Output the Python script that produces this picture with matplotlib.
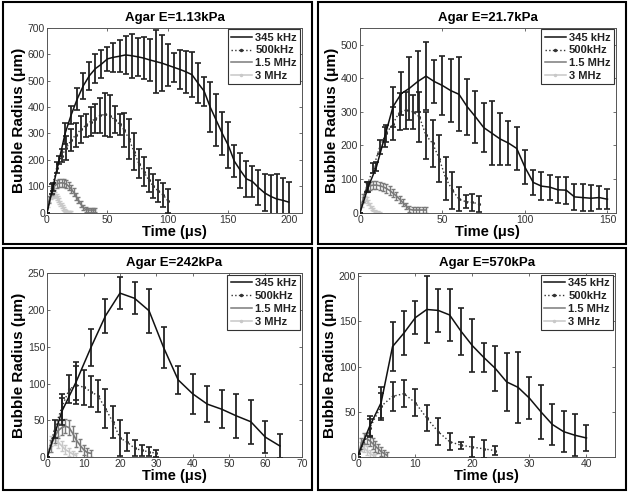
import matplotlib
matplotlib.use("Agg")
import matplotlib.pyplot as plt
from matplotlib.patches import Rectangle
from matplotlib.lines import Line2D
import numpy as np

plt.rcParams['font.family'] = ['Liberation Sans', 'DejaVu Sans']

labels = ['345 kHz', '500kHz', '1.5 MHz', '3 MHz']
titles = ['Agar E=1.13kPa', 'Agar E=21.7kPa', 'Agar E=242kPa', 'Agar E=570kPa']

# ---------------- Panel 1: E = 1.13 kPa ----------------
p1_t345 = [0, 5, 10, 15, 20, 25, 30, 35, 40, 45, 50, 55, 60, 65, 70, 75, 80, 85, 90, 95, 100,
           105, 110, 115, 120, 125, 130, 135, 140, 145, 150, 155, 160, 165, 170, 175, 180, 185, 190, 195, 200]
p1_r345 = [0, 98, 199, 300, 370, 430, 480, 518, 545, 562, 582, 588, 592, 597, 594, 590, 585, 578, 572, 566, 558,
           550, 542, 533, 522, 490, 460, 400, 350, 300, 255, 195, 160, 128, 118, 95, 75, 62, 52, 47, 40]
p1_e345 = [0, 15, 16, 40, 35, 40, 50, 54, 54, 52, 45, 54, 60, 72, 84, 72, 79, 81, 120, 107, 80,
           55, 75, 80, 85, 75, 55, 95, 98, 80, 87, 60, 67, 69, 57, 66, 70, 80, 95, 85, 75]
p1_t500 = [0, 4, 8, 12, 16, 20, 24, 28, 32, 36, 40, 44, 48, 52, 56, 60, 64, 68, 72, 76, 80, 84, 88, 92, 96, 100]
p1_r500 = [0, 90, 170, 215, 245, 275, 295, 315, 330, 345, 355, 368, 372, 365, 352, 335, 312, 278, 230, 185,
           155, 125, 100, 82, 68, 45]
p1_e500 = [0, 20, 20, 25, 45, 40, 45, 50, 45, 55, 55, 65, 80, 80, 50, 40, 65, 75, 70, 55, 55, 45, 45, 40, 45, 45]
p1_t15 = [0, 2, 4, 6, 8, 10, 12, 14, 16, 18, 20, 22, 24, 26, 28, 30, 32, 34, 36, 38, 40]
p1_r15 = [0, 50, 80, 100, 108, 112, 113, 112, 108, 100, 90, 78, 62, 48, 32, 20, 12, 10, 10, 10, 10]
p1_e15 = [0, 12, 14, 15, 15, 15, 15, 15, 15, 15, 15, 14, 14, 13, 12, 10, 8, 8, 8, 8, 8]
p1_t3 = [0, 1, 2, 3, 4, 5, 6, 7, 8, 9, 10, 11, 12, 13, 14, 15, 16, 17, 18, 19, 20]
p1_r3 = [0, 30, 50, 62, 68, 72, 70, 66, 60, 52, 44, 36, 28, 20, 14, 8, 4, 3, 2, 2, 2]
p1_e3 = [0, 10, 10, 12, 12, 12, 12, 12, 12, 11, 10, 10, 9, 8, 7, 6, 5, 4, 3, 3, 3]

# ---------------- Panel 2: E = 21.7 kPa ----------------
p2_t345 = [0, 5, 10, 15, 20, 25, 30, 35, 40, 45, 50, 55, 60, 65, 70, 75, 80, 85, 90, 95, 100,
           105, 110, 115, 120, 125, 130, 135, 140, 145, 150]
p2_r345 = [0, 77, 137, 226, 315, 354, 370, 390, 406, 390, 378, 363, 352, 315, 285, 253, 236, 219, 207, 191, 135,
           90, 79, 76, 68, 67, 47, 45, 43, 45, 40]
p2_e345 = [0, 15, 14, 30, 59, 64, 94, 92, 102, 65, 89, 94, 110, 83, 78, 72, 95, 77, 65, 64, 50,
           37, 41, 37, 39, 40, 38, 39, 39, 33, 30]
p2_t500 = [0, 4, 8, 12, 16, 20, 24, 28, 32, 36, 40, 44, 48, 52, 56, 60, 64, 68, 72]
p2_r500 = [0, 77, 132, 196, 236, 265, 300, 305, 300, 285, 230, 206, 161, 102, 67, 40, 33, 31, 26]
p2_e500 = [0, 15, 15, 20, 25, 50, 55, 55, 50, 75, 70, 70, 70, 65, 55, 35, 20, 25, 25]
p2_t15 = [0, 2, 4, 6, 8, 10, 12, 14, 16, 18, 20, 22, 24, 26, 28, 30, 32, 34, 36, 38, 40]
p2_r15 = [0, 45, 75, 80, 82, 82, 80, 77, 72, 66, 58, 50, 40, 30, 20, 10, 8, 8, 8, 8, 8]
p2_e15 = [0, 12, 12, 12, 12, 12, 12, 12, 12, 12, 12, 12, 11, 10, 10, 9, 8, 8, 8, 8, 8]
p2_t3 = [0, 1, 2, 3, 4, 5, 6, 7, 8, 9, 10, 11, 12]
p2_r3 = [0, 25, 38, 42, 38, 30, 22, 15, 9, 5, 3, 2, 1]
p2_e3 = [0, 8, 8, 8, 8, 8, 7, 6, 5, 4, 3, 2, 2]

# ---------------- Panel 3: E = 242 kPa ----------------
p3_t345 = [0, 4, 8, 12, 16, 20, 24, 28, 32, 36, 40, 44, 48, 52, 56, 60, 64]
p3_r345 = [0, 62, 103, 149, 192, 223, 216, 199, 149, 105, 86, 72, 65, 56, 48, 27, 15]
p3_e345 = [0, 18, 26, 25, 23, 22, 22, 30, 28, 19, 27, 25, 26, 30, 30, 22, 16]
p3_t500 = [0, 2, 4, 6, 8, 10, 12, 14, 16, 18, 20, 22, 24, 26, 28, 30]
p3_r500 = [0, 38, 68, 92, 98, 95, 89, 83, 66, 48, 26, 20, 12, 9, 7, 5]
p3_e500 = [0, 12, 18, 19, 26, 24, 21, 22, 27, 22, 24, 12, 11, 8, 6, 5]
p3_t15 = [0, 1, 2, 3, 4, 5, 6, 7, 8, 9, 10, 11, 12]
p3_r15 = [0, 15, 28, 36, 40, 42, 40, 32, 23, 16, 10, 6, 5]
p3_e15 = [0, 8, 9, 10, 10, 10, 10, 10, 9, 8, 7, 6, 5]
p3_t3 = [0, 1, 2, 3, 4, 5, 6, 7, 8]
p3_r3 = [0, 22, 25, 20, 15, 10, 7, 4, 2]
p3_e3 = [0, 7, 8, 8, 7, 6, 5, 4, 3]

# ---------------- Panel 4: E = 570 kPa ----------------
p4_t345 = [0, 2, 4, 6, 8, 10, 12, 14, 16, 18, 20, 22, 24, 26, 28, 30, 32, 34, 36, 38, 40]
p4_r345 = [3, 34, 60, 122, 137, 154, 163, 162, 157, 139, 123, 110, 98, 83, 77, 65, 50, 36, 28, 24, 21]
p4_e345 = [0, 11, 17, 27, 24, 18, 37, 24, 29, 26, 29, 16, 25, 32, 39, 23, 30, 23, 23, 23, 14]
p4_t500 = [0, 2, 4, 6, 8, 10, 12, 14, 16, 18, 20, 22, 24]
p4_r500 = [0, 32, 56, 67, 70, 60, 43, 28, 17, 13, 11, 9, 7]
p4_e500 = [0, 10, 15, 16, 15, 15, 14, 15, 9, 4, 11, 10, 5]
p4_t15 = [0, 0.5, 1, 1.5, 2, 2.5, 3, 3.5, 4, 4.5, 5]
p4_r15 = [0, 15, 20, 20, 18, 15, 12, 9, 6, 4, 2]
p4_e15 = [0, 6, 6, 6, 6, 6, 6, 5, 5, 4, 3]
p4_t3 = [0, 0.5, 1, 1.5, 2, 2.5, 3]
p4_r3 = [0, 12, 10, 7, 4, 2, 1]
p4_e3 = [0, 5, 5, 5, 4, 3, 2]

panels = [
    dict(t345=p1_t345, r345=p1_r345, e345=p1_e345, t500=p1_t500, r500=p1_r500, e500=p1_e500,
         t15=p1_t15, r15=p1_r15, e15=p1_e15, t3=p1_t3, r3=p1_r3, e3=p1_e3,
         xlim=(0, 211), ylim=(0, 700), xt=np.arange(0, 201, 50), yt=np.arange(0, 701, 100)),
    dict(t345=p2_t345, r345=p2_r345, e345=p2_e345, t500=p2_t500, r500=p2_r500, e500=p2_e500,
         t15=p2_t15, r15=p2_r15, e15=p2_e15, t3=p2_t3, r3=p2_r3, e3=p2_e3,
         xlim=(0, 155), ylim=(0, 550), xt=np.arange(0, 151, 50), yt=np.arange(0, 501, 100)),
    dict(t345=p3_t345, r345=p3_r345, e345=p3_e345, t500=p3_t500, r500=p3_r500, e500=p3_e500,
         t15=p3_t15, r15=p3_r15, e15=p3_e15, t3=p3_t3, r3=p3_r3, e3=p3_e3,
         xlim=(0, 70), ylim=(0, 250), xt=np.arange(0, 71, 10), yt=np.arange(0, 251, 50)),
    dict(t345=p4_t345, r345=p4_r345, e345=p4_e345, t500=p4_t500, r500=p4_r500, e500=p4_e500,
         t15=p4_t15, r15=p4_r15, e15=p4_e15, t3=p4_t3, r3=p4_r3, e3=p4_e3,
         xlim=(0, 45), ylim=(0, 203), xt=np.arange(0, 41, 10), yt=np.arange(0, 201, 50)),
]

W, H = 629, 493
fig = plt.figure(figsize=(W / 100, H / 100), dpi=100)

# axes rectangles in pixels: (left, top, right, bottom)
ax_px = [(47, 27.7, 302, 212.7), (360, 27.7, 615.7, 212.7),
         (47.3, 273.3, 301.7, 457), (358.3, 273.3, 615, 457)]
box_px = [(3, 2, 312, 244), (318, 2, 626, 244), (3, 248, 312, 490), (318, 248, 626, 490)]

c345 = '#111111'
c500 = '#333333'
c15 = '#7a7a7a'
c3 = '#c8c8c8'

for i, (p, (l, t, r, b)) in enumerate(zip(panels, ax_px)):
    ax = fig.add_axes([l / W, 1 - b / H, (r - l) / W, (b - t) / H])
    ax.errorbar(p['t3'], p['r3'], yerr=p['e3'], color=c3, ecolor=c3, lw=1.2, elinewidth=1.0,
                capsize=1.5, capthick=1.0, zorder=1)
    ax.errorbar(p['t15'], p['r15'], yerr=p['e15'], color=c15, ecolor=c15, lw=1.2, elinewidth=1.0,
                capsize=1.5, capthick=1.0, zorder=2)
    ax.errorbar(p['t500'], p['r500'], yerr=p['e500'], color=c500, ecolor='#222222', lw=1.0,
                ls=':', marker='.', ms=2.5, elinewidth=1.3, capsize=2, capthick=1.2, zorder=3)
    ax.errorbar(p['t345'], p['r345'], yerr=p['e345'], color=c345, ecolor='#222222', lw=1.1,
                elinewidth=1.3, capsize=2, capthick=1.2, zorder=4)

    ax.set_xlim(*p['xlim'])
    ax.set_ylim(*p['ylim'])
    ax.set_xticks(p['xt'])
    ax.set_yticks(p['yt'])
    ax.tick_params(direction='in', length=2.5, width=0.6, labelsize=7.5, pad=1.5,
                   top=True, right=True, colors='#555555', labelcolor='#333333')
    for s in ax.spines.values():
        s.set_linewidth(0.7)
        s.set_color('#555555')
    ax.set_title(titles[i], fontsize=9.5, fontweight='bold', pad=5)
    ax.set_xlabel('Time (\u03bcs)', fontsize=10.5, fontweight='bold', labelpad=0)
    ax.set_ylabel('Bubble Radius (\u03bcm)', fontsize=11, fontweight='bold', labelpad=1)

    handles = [Line2D([], [], color=c345, lw=1.1),
               Line2D([], [], color=c500, lw=1.0, ls=':', marker='.', ms=3),
               Line2D([], [], color=c15, lw=1.1),
               Line2D([], [], color=c3, lw=1.1, marker='.', ms=3)]
    leg = ax.legend(handles, labels, loc='upper right', numpoints=1,
                    prop={'weight': 'bold', 'size': 8}, frameon=True, fancybox=False,
                    borderaxespad=0.15, handlelength=1.9, handletextpad=0.3,
                    labelspacing=0.25, borderpad=0.3, framealpha=1)
    leg.get_frame().set_edgecolor('#333333')
    leg.get_frame().set_linewidth(0.8)
    for txt in leg.get_texts():
        txt.set_color('#222222')

for (l, t, r, b) in box_px:
    fig.add_artist(Rectangle((l / W, 1 - b / H), (r - l) / W, (b - t) / H,
                             transform=fig.transFigure, fill=False, ec='black', lw=1.5))

fig.savefig('out.png', dpi=100)
